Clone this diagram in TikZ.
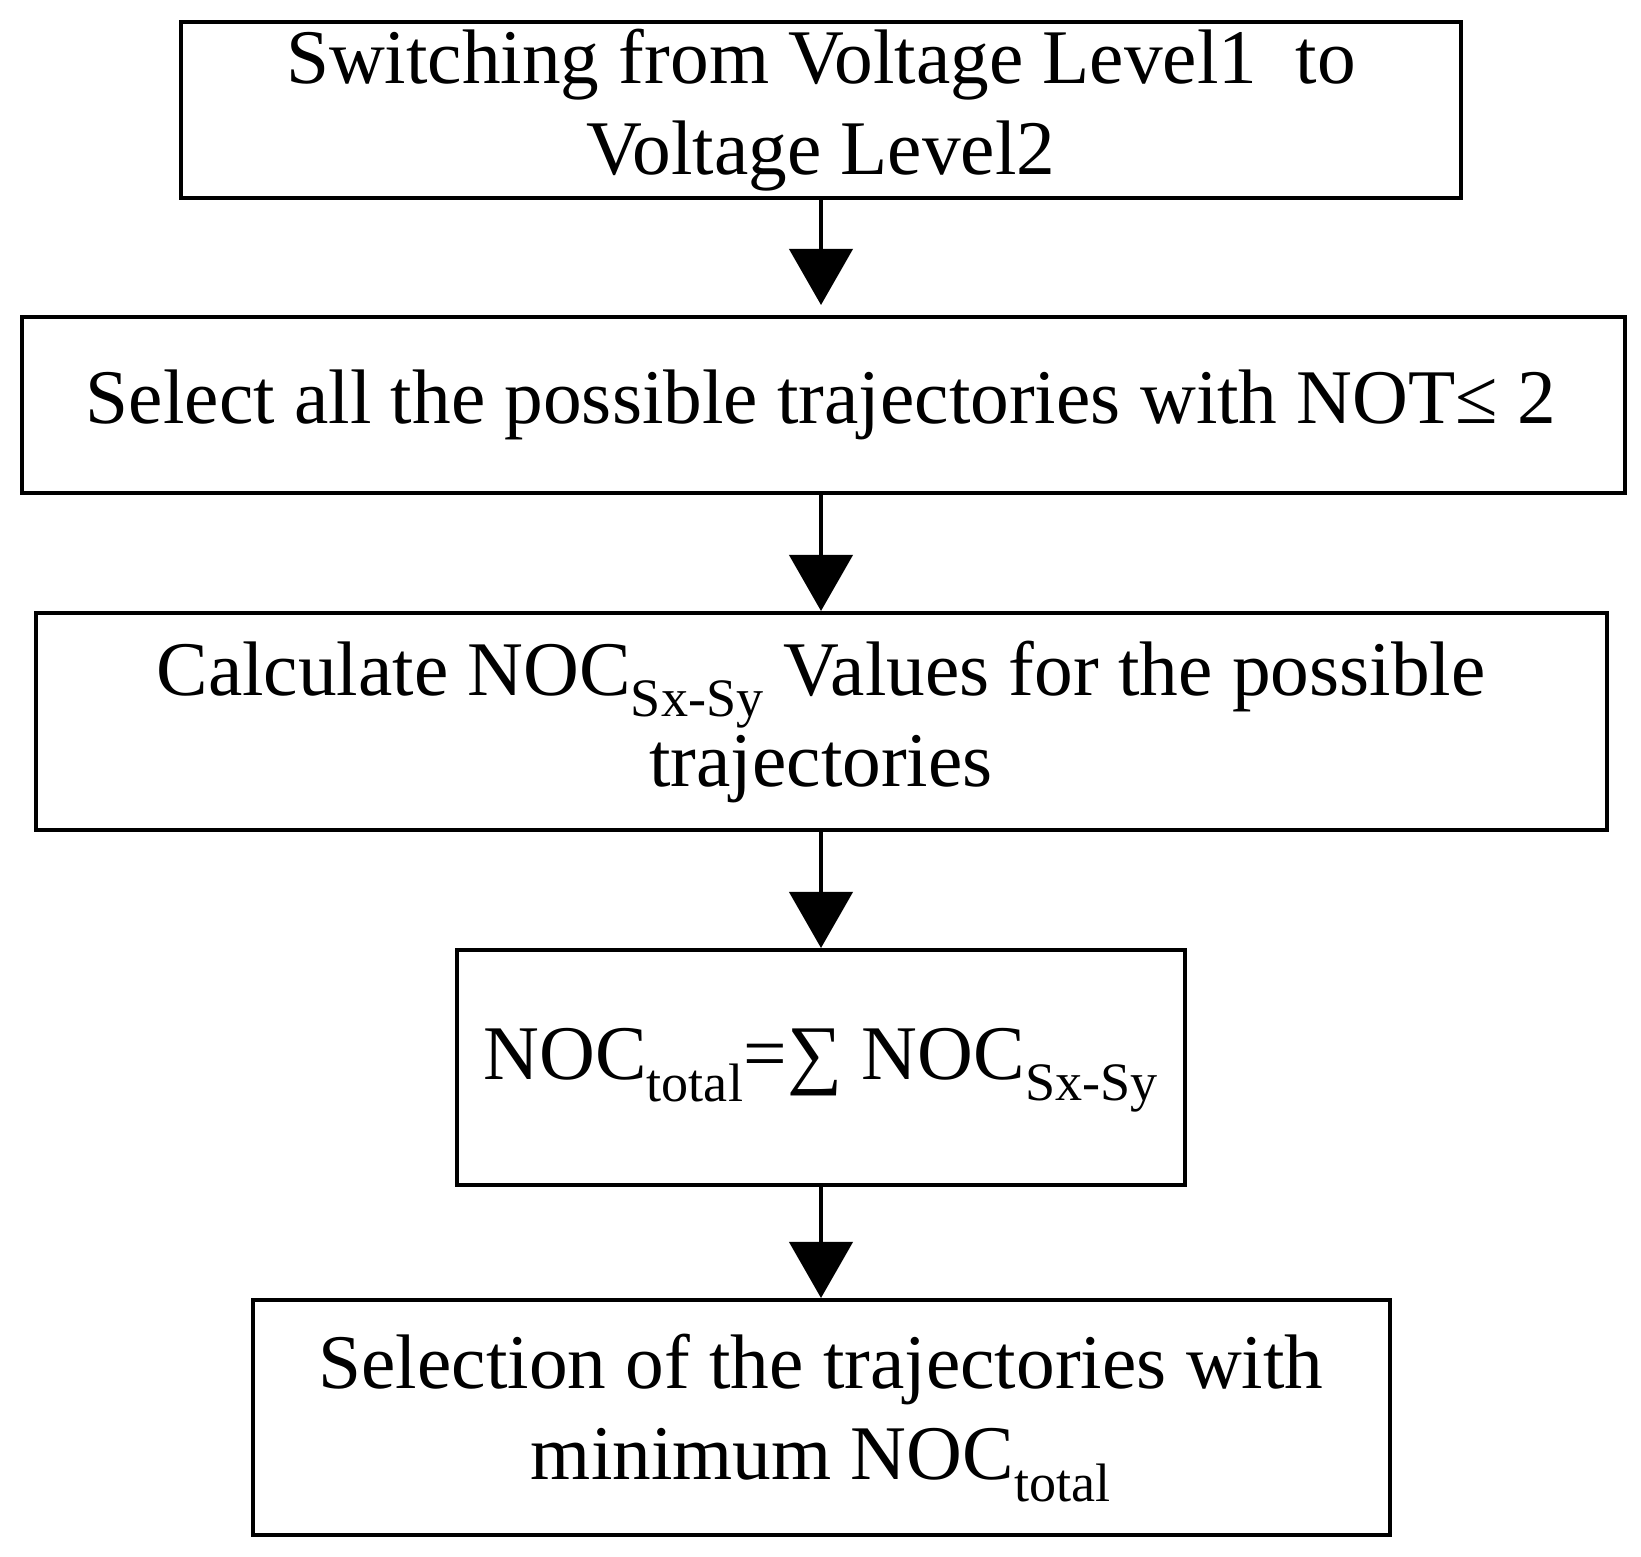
\documentclass[tikz,border=0pt]{standalone}
\usepackage{fontspec}
\setmainfont{Liberation Serif}
\usetikzlibrary{arrows.meta}
\begin{document}
\begin{tikzpicture}[x=0.02cm,y=-0.02cm,
  box/.style={draw,line width=2.4pt,inner sep=0pt},
  txt/.style={font=\fontsize{44}{52}\selectfont,align=center},
  arr/.style={line width=2.4pt,-{Triangle[width=36pt,length=32pt]}}]
\useasboundingbox (0,0) rectangle (1641,1557);
\draw[box] (181,22) rectangle (1461,198);
\draw[box] (22,317) rectangle (1625,493);
\draw[box] (36,613) rectangle (1607,830);
\draw[box] (457,950) rectangle (1185,1185);
\draw[box] (253,1300) rectangle (1390,1535);
\node[txt] (t1) at (821,110) {Switching from Voltage Level1 \ to\\Voltage Level2};
\node[txt] (t2) at (821,405) {Select all the possible trajectories with NOT≤ 2};
\node[txt] (t3) at (821,722) {Calculate NOC\textsubscript{Sx-Sy} Values for the possible\\trajectories};
\node[txt] (t4) at (821,1070) {NOC\textsubscript{total}=∑ NOC\textsubscript{Sx-Sy}};
\node[txt] (t5) at (821,1418) {Selection of the trajectories with\\minimum NOC\textsubscript{total}};
\coordinate (a1) at (821,198); \coordinate (b1) at (821,305);
\coordinate (a2) at (821,493); \coordinate (b2) at (821,611);
\coordinate (a3) at (821,830); \coordinate (b3) at (821,948);
\coordinate (a4) at (821,1185); \coordinate (b4) at (821,1298);
\draw[arr] (a1) -- (b1);
\draw[arr] (a2) -- (b2);
\draw[arr] (a3) -- (b3);
\draw[arr] (a4) -- (b4);
\end{tikzpicture}
\end{document}
